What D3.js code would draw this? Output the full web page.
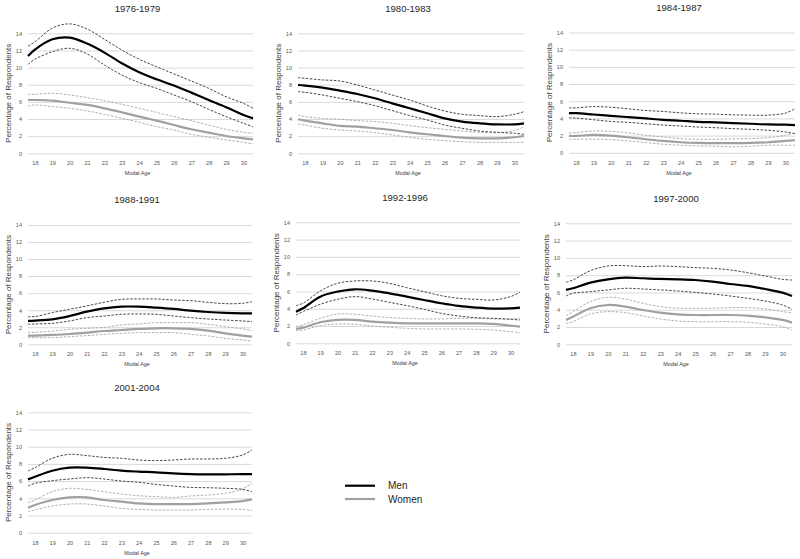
<!DOCTYPE html>
<html><head><meta charset="utf-8">
<script src="https://cdn.jsdelivr.net/npm/d3@7"></script>
<style>body{margin:0;background:#fff}svg{display:block}</style>
</head><body>
<svg id="c" width="800" height="559"></svg>
<script>
// ---- data ----
const periods = ["1976-1979","1980-1983","1984-1987","1988-1991","1992-1996","1997-2000","2001-2004"];
const ages = [17.6,18,19,20,21,22,23,24,25,26,27,28,29,30,30.55];
const xTicks = [18,19,20,21,22,23,24,25,26,27,28,29,30];
const yTicks = [0,2,4,6,8,10,12,14];
const seriesNames = ["Men","Women"];

const men_1976   = [11.36,12.1,13.3,13.5,12.8,11.75,10.5,9.45,8.63,7.9,7.08,6.22,5.37,4.47,4.08];
const menHi_1976 = [12.5,13.0,14.6,15.1,14.5,13.3,12.06,10.97,10.1,9.26,8.44,7.58,6.6,5.83,5.25];
const menLo_1976 = [10.4,10.97,11.86,12.25,11.6,10.3,9.14,8.25,7.58,6.8,6.03,5.13,4.28,3.5,3.1];
const wom_1976   = [6.22,6.22,6.15,5.9,5.64,5.25,4.78,4.28,3.81,3.3,2.8,2.41,2.02,1.75,1.63];
const womHi_1976 = [6.88,6.88,7.0,6.8,6.5,6.15,5.72,5.25,4.78,4.28,3.81,3.3,2.8,2.45,2.33];
const womLo_1976 = [5.52,5.64,5.45,5.25,4.94,4.55,4.08,3.62,3.11,2.72,2.22,1.87,1.56,1.28,1.09];

const men_1980   = [7.97,7.9,7.66,7.31,6.92,6.42,5.83,5.25,4.67,4.08,3.7,3.5,3.38,3.38,3.5];
const menHi_1980 = [8.83,8.75,8.56,8.44,7.97,7.39,6.8,6.22,5.52,4.94,4.55,4.4,4.28,4.55,4.86];
const menLo_1980 = [7.2,7.12,6.8,6.42,6.03,5.56,4.98,4.4,3.89,3.3,2.92,2.6,2.45,2.33,2.22];
const wom_1980   = [3.97,3.81,3.5,3.19,3.11,2.92,2.72,2.45,2.22,2.02,1.83,1.75,1.75,1.87,2.02];
const womHi_1980 = [4.47,4.28,4.08,3.97,3.81,3.7,3.5,3.23,2.99,2.8,2.6,2.45,2.41,2.64,3.11];
const womLo_1980 = [3.42,3.3,2.92,2.72,2.6,2.41,2.14,1.87,1.63,1.48,1.36,1.28,1.28,1.28,1.28];

const men_1984   = [4.62,4.61,4.46,4.3,4.15,4.0,3.84,3.73,3.61,3.54,3.46,3.38,3.3,3.27,3.23];
const menHi_1984 = [5.23,5.23,5.38,5.3,5.12,4.92,4.81,4.65,4.54,4.5,4.42,4.38,4.38,4.62,5.12];
const menLo_1984 = [4.08,4.04,3.85,3.65,3.54,3.38,3.23,3.12,3.0,2.92,2.81,2.73,2.62,2.42,2.23];
const wom_1984   = [1.96,1.96,2.08,2.0,1.81,1.58,1.38,1.23,1.15,1.12,1.12,1.15,1.23,1.38,1.46];
const womHi_1984 = [2.31,2.35,2.54,2.5,2.31,2.04,1.85,1.65,1.58,1.58,1.62,1.65,1.77,2.04,2.31];
const womLo_1984 = [1.54,1.58,1.58,1.54,1.38,1.19,1.0,0.88,0.81,0.77,0.69,0.77,0.88,0.88,0.88];

const men_1988   = [2.74,2.78,2.93,3.32,3.83,4.22,4.42,4.42,4.3,4.15,3.95,3.79,3.68,3.64,3.64];
const menHi_1988 = [3.25,3.25,3.72,4.11,4.5,4.93,5.28,5.32,5.32,5.2,5.12,4.93,4.77,4.81,5.0];
const menLo_1988 = [2.35,2.39,2.46,2.74,3.13,3.32,3.52,3.56,3.52,3.32,3.13,2.97,2.85,2.74,2.66];
const wom_1988   = [1.02,1.02,1.1,1.21,1.37,1.56,1.68,1.8,1.88,1.88,1.8,1.6,1.29,1.02,0.9];
const womHi_1988 = [1.41,1.41,1.56,1.76,1.88,1.99,2.27,2.39,2.54,2.54,2.54,2.35,2.07,1.8,1.6];
const womLo_1988 = [0.78,0.78,0.78,0.9,1.02,1.17,1.29,1.37,1.37,1.37,1.17,0.98,0.7,0.51,0.39];

const men_1992   = [3.66,4.05,5.4,5.98,6.25,6.09,5.78,5.4,5.01,4.63,4.32,4.13,4.01,4.05,4.13];
const menHi_1992 = [4.36,4.63,6.05,6.94,7.21,7.21,6.94,6.44,5.98,5.51,5.21,5.09,5.01,5.4,5.9];
const menLo_1992 = [3.28,3.66,4.51,5.09,5.4,5.13,4.74,4.36,3.93,3.47,3.16,2.97,2.89,2.78,2.7];
const wom_1992   = [1.66,1.81,2.43,2.7,2.7,2.51,2.39,2.31,2.31,2.31,2.31,2.31,2.24,2.04,1.93];
const womHi_1992 = [1.93,2.12,2.89,3.39,3.36,3.16,2.97,2.89,2.82,2.82,2.89,2.89,2.82,2.82,2.89];
const womLo_1992 = [1.43,1.54,2.04,2.24,2.2,2.01,1.85,1.74,1.66,1.66,1.66,1.62,1.54,1.35,1.23];

const men_1997   = [6.29,6.48,7.13,7.52,7.71,7.64,7.56,7.52,7.44,7.25,6.98,6.75,6.4,5.98,5.59];
const menHi_1997 = [7.17,7.44,8.52,9.06,9.1,8.99,9.06,8.99,8.87,8.79,8.6,8.29,7.91,7.52,7.44];
const menLo_1997 = [5.59,5.9,6.09,6.29,6.48,6.4,6.29,6.17,6.01,5.82,5.59,5.32,5.01,4.55,4.05];
const wom_1997   = [2.82,3.2,4.17,4.55,4.36,3.97,3.66,3.47,3.39,3.39,3.39,3.32,3.12,2.82,2.51];
const womHi_1997 = [3.32,3.78,4.94,5.44,5.24,4.74,4.36,4.17,4.17,4.17,4.24,4.24,4.09,3.78,3.66];
const womLo_1997 = [2.43,2.62,3.51,3.78,3.66,3.28,2.93,2.7,2.62,2.62,2.62,2.55,2.35,2.04,1.66];

const men_2001   = [6.2,6.51,7.21,7.56,7.56,7.41,7.21,7.1,7.02,6.9,6.82,6.79,6.79,6.82,6.82];
const menHi_2001 = [7.17,7.56,8.65,9.11,8.96,8.76,8.65,8.45,8.38,8.45,8.57,8.57,8.65,9.03,9.62];
const menLo_2001 = [5.43,5.74,6.05,6.24,6.4,6.24,6.01,5.86,5.62,5.43,5.27,5.23,5.16,5.04,4.77];
const wom_2001   = [2.91,3.22,3.8,4.11,4.11,3.8,3.61,3.41,3.33,3.33,3.33,3.41,3.53,3.68,3.88];
const womHi_2001 = [3.49,3.8,4.77,5.16,5.04,4.77,4.5,4.3,4.19,4.11,4.27,4.38,4.58,5.08,5.74];
const womLo_2001 = [2.44,2.64,3.1,3.33,3.33,3.1,2.83,2.71,2.64,2.64,2.64,2.71,2.75,2.71,2.56];

const panelData = [
  [men_1976,menHi_1976,menLo_1976,wom_1976,womHi_1976,womLo_1976],
  [men_1980,menHi_1980,menLo_1980,wom_1980,womHi_1980,womLo_1980],
  [men_1984,menHi_1984,menLo_1984,wom_1984,womHi_1984,womLo_1984],
  [men_1988,menHi_1988,menLo_1988,wom_1988,womHi_1988,womLo_1988],
  [men_1992,menHi_1992,menLo_1992,wom_1992,womHi_1992,womLo_1992],
  [men_1997,menHi_1997,menLo_1997,wom_1997,womHi_1997,womLo_1997],
  [men_2001,menHi_2001,menLo_2001,wom_2001,womHi_2001,womLo_2001]
];

// ---- layout (pixel boxes of each small chart) ----
const boxes = [
  {x0:28,x1:253,yT:33.3,yB:153.3},
  {x0:298,x1:524,yT:33.3,yB:153.3},
  {x0:569,x1:795,yT:32.5,yB:152.8},
  {x0:28,x1:252,yT:225,yB:344.3},
  {x0:296,x1:520,yT:222.3,yB:343.3},
  {x0:566,x1:792,yT:223.3,yB:344.3},
  {x0:28,x1:252,yT:412.3,yB:532.7}
];

const FONT = "'Liberation Sans', Arial, sans-serif";
const svg = d3.select("#c");
const styles = [
  {c:"#000", w:2.2, d:null},      // men
  {c:"#333", w:0.9, d:"2.5,1.5"}, // men hi
  {c:"#333", w:0.9, d:"2.5,1.5"}, // men lo
  {c:"#a0a0a0", w:2.2, d:null},   // women
  {c:"#a6a6a6", w:0.9, d:"2.5,1.5"},
  {c:"#a6a6a6", w:0.9, d:"2.5,1.5"}
];
const order = [4,5,3,1,2,0];

periods.forEach((p,i)=>{
  const b = boxes[i];
  const x = d3.scaleLinear().domain([ages[0], ages[ages.length-1]]).range([b.x0,b.x1]);
  const y = d3.scaleLinear().domain([0,14]).range([b.yB,b.yT]);
  const g = svg.append("g");

  // gridlines via axis
  const yAxis = d3.axisLeft(y).tickValues(yTicks).tickSize(-(b.x1-b.x0)).tickPadding(6);
  const ya = g.append("g").attr("transform",`translate(${b.x0},0)`).call(yAxis);
  ya.select(".domain").remove();
  ya.selectAll(".tick line").attr("stroke","#d9d9d9").attr("stroke-width",1);
  ya.selectAll(".tick text").attr("font-family",FONT).attr("font-size",5.6).attr("fill","#595959");

  const xAxis = d3.axisBottom(x).tickValues(xTicks).tickSize(0).tickPadding(8);
  const xa = g.append("g").attr("transform",`translate(0,${b.yB})`).call(xAxis);
  xa.select(".domain").remove();
  xa.selectAll(".tick text").attr("font-family",FONT).attr("font-size",5.6).attr("fill","#595959");

  // titles
  g.append("text").attr("x",(b.x0+b.x1)/2 - 3).attr("y",b.yT-25).attr("dy","0.35em")
    .attr("text-anchor","middle").attr("font-family",FONT).attr("font-size",9.5).attr("fill","#262626").text(p);
  g.append("text").attr("x",(b.x0+b.x1)/2 - 3).attr("y",b.yB+20).attr("dy","0.35em")
    .attr("text-anchor","middle").attr("font-family",FONT).attr("font-size",5.4).attr("fill","#404040").text("Modal Age");
  g.append("text").attr("transform",`translate(${b.x0-20},${(b.yT+b.yB)/2}) rotate(-90)`).attr("dy","0.35em")
    .attr("text-anchor","middle").attr("font-family",FONT).attr("font-size",8).attr("fill","#404040").text("Percentage of Respondents");

  const line = d3.line().x((d,k)=>x(ages[k])).y(d=>y(d)).curve(d3.curveCatmullRom.alpha(0.5));
  order.forEach(k=>{
    const s = styles[k];
    g.append("path").attr("d",line(panelData[i][k])).attr("fill","none")
      .attr("stroke",s.c).attr("stroke-width",s.w).attr("stroke-dasharray",s.d);
  });
});

// legend
const leg = svg.append("g");
const legY = d3.scalePoint().domain(seriesNames).range([485.7,499]);
seriesNames.forEach((n,k)=>{
  const s = styles[k===0?0:3];
  leg.append("line").attr("x1",345).attr("x2",375).attr("y1",legY(n)).attr("y2",legY(n))
    .attr("stroke",s.c).attr("stroke-width",2.2);
  leg.append("text").attr("x",388).attr("y",legY(n)).attr("dy","0.35em").attr("font-family",FONT)
    .attr("font-size",10).attr("fill","#262626").text(n);
});
</script>
</body></html>
